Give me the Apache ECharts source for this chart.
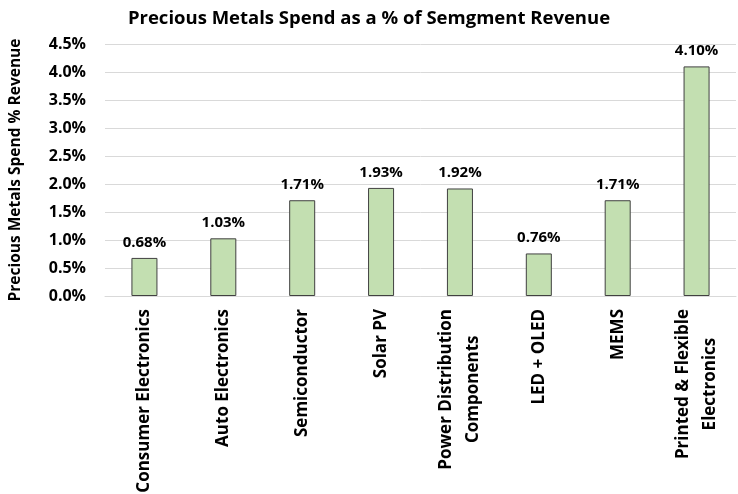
<!DOCTYPE html>
<html><head><meta charset="utf-8">
<script src="https://cdn.jsdelivr.net/npm/echarts@6/dist/echarts.min.js"></script>
<style>html,body{margin:0;padding:0;background:#fff}#c{width:738px;height:494px}</style>
</head><body><div id="c"></div>
<script>
const categories = ['Consumer Electronics','Auto Electronics','Semiconductor','Solar PV','Power Distribution\nComponents','LED + OLED','MEMS','Printed & Flexible\nElectronics'];
const values = [0.68, 1.03, 1.71, 1.93, 1.92, 0.76, 1.71, 4.10];
const yTicks = {min: 0, max: 4.5, interval: 0.5};
const FONT = '"Open Sans"';
const chart = echarts.init(document.getElementById('c'));
chart.setOption({
  animation: false,
  title: {text: 'Precious Metals Spend as a % of Semgment Revenue', left: 'center', top: 4,
    textStyle: {fontFamily: FONT, fontWeight: 'bold', fontSize: 18.5, color: '#000'}},
  grid: {left: 105, right: 2, top: 44, bottom: 198, containLabel: false, outerBoundsMode: 'none'},
  xAxis: {type: 'category', data: categories,
    axisLine: {lineStyle: {color: '#d9d9d9'}}, axisTick: {show: false},
    axisLabel: {rotate: 90, interval: 0, margin: 13, color: '#000',
      formatter: v => v.split('\n').map(s => '{a|' + s + '}').join('\n'),
      rich: {a: {fontFamily: FONT, fontWeight: 'bold', fontSize: 17, color: '#000', align: 'center', lineHeight: 27}}}},
  yAxis: {type: 'value', min: yTicks.min, max: yTicks.max, interval: yTicks.interval,
    name: 'Precious Metals Spend % Revenue', nameLocation: 'middle', nameGap: 81, nameRotate: 90,
    nameTextStyle: {fontFamily: FONT, fontWeight: 'bold', fontSize: 15.5, color: '#000'},
    axisLabel: {formatter: v => v.toFixed(1) + '%', fontFamily: FONT, fontWeight: 'bold', fontSize: 16, color: '#000', margin: 19},
    splitLine: {lineStyle: {color: '#d9d9d9'}}, axisLine: {show: false}, axisTick: {show: false}},
  series: [{type: 'bar', data: values, barWidth: '33%',
    itemStyle: {color: '#c3dfb1', borderColor: '#404040', borderWidth: 1},
    label: {show: true, position: 'top', distance: 8, formatter: p => p.value.toFixed(2) + '%',
      fontFamily: FONT, fontWeight: 'bold', fontSize: 15, color: '#000'}}]
});
</script></body></html>
